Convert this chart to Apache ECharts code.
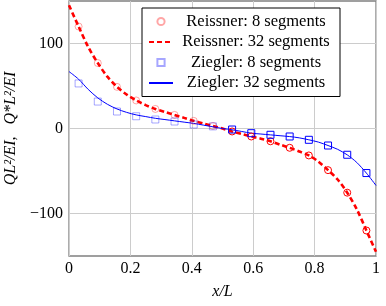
<!DOCTYPE html>
<html><head><meta charset="utf-8">
<script src="https://cdn.jsdelivr.net/npm/echarts@6/dist/echarts.min.js"></script>
<style>html,body{margin:0;padding:0;background:#fff}#c{width:386px;height:306px}</style>
</head><body><div id="c"></div>
<script>
var xMarks = [0.03125,0.09375,0.15625,0.21875,0.28125,0.34375,0.40625,0.46875,0.53125,0.59375,0.65625,0.71875,0.78125,0.84375,0.90625,0.96875];
var reissner8 = [120,77,49,33,23,16,9,3,-3.5,-9.4,-15,-22.7,-31.7,-49,-75.5,-120];
var ziegler8 = [53,31.7,20,14.4,10.6,8.2,4.7,2.5,-1.2,-5.5,-7.4,-9.4,-13.3,-20,-30.9,-52.4];
var xLine = [0,0.03125,0.0625,0.09375,0.125,0.15625,0.1875,0.21875,0.25,0.28125,0.3125,0.34375,0.375,0.40625,0.4375,0.46875,0.5,0.53125,0.5625,0.59375,0.625,0.65625,0.6875,0.71875,0.75,0.78125,0.8125,0.84375,0.875,0.90625,0.9375,0.96875,1];
var reissner32 = [145,120,96,77,61,49,40,33,27.5,23,19.5,16,12.5,9,6,3,0,-3.5,-6.5,-9.4,-12,-15,-19,-22.7,-27,-31.7,-39,-49,-60,-75.5,-95,-120,-145];
var ziegler32 = [67,58,46,36,28.5,23,19,16,14,12,10.5,9,7.5,6,4,2,0,-1.5,-3.5,-5.5,-6.5,-7.5,-8.5,-9.5,-11,-13.3,-16,-20,-24.5,-31,-40,-52.5,-67];
var xTicks = ['0','0.2','0.4','0.6','0.8','1'];
var names = ['Reissner: 8 segments','Reissner: 32 segments','Ziegler: 8 segments','Ziegler: 32 segments'];

var FONT = 'Liberation Serif';
function pts(xs, ys, fade) {
  return xs.map(function (x, i) {
    var d = {value: [x, ys[i]]};
    if (fade) d.itemStyle = {opacity: x < 0.5 ? 0.35 : 1};
    return d;
  });
}
function markerSeries(name, symbol, color, xs, ys) {
  return {name: name, type: 'line', symbol: symbol, symbolSize: 7, showSymbol: true, showAllSymbol: true, z: 4,
    lineStyle: {width: 0, opacity: 0, color: color},
    itemStyle: {color: 'rgba(255,255,255,0)', borderColor: color, borderWidth: 1, opacity: 0.35},
    emphasis: {disabled: true},
    data: pts(xs, ys, true)};
}
function curveSeries(name, color, width, type, xs, ys) {
  return {name: name, type: 'line', symbol: 'none', smooth: 0.3, z: 3,
    lineStyle: {color: color, width: width, type: type},
    itemStyle: {color: 'rgba(0,0,0,0)', borderColor: 'rgba(0,0,0,0)', opacity: 0},
    emphasis: {disabled: true},
    data: pts(xs, ys, false)};
}
var chart = echarts.init(document.getElementById('c'), null, {renderer: 'canvas'});
chart.setOption({
  animation: false,
  backgroundColor: '#fff',
  grid: {left: 69, right: 10, top: 1, bottom: 50, containLabel: false, outerBoundsMode: 'none',
    show: true, borderColor: '#808080', borderWidth: 1.3, backgroundColor: 'transparent'},
  xAxis: {
    type: 'value', min: 0, max: 1, interval: 0.2,
    name: 'x/L', nameLocation: 'middle', nameGap: 28,
    nameTextStyle: {fontFamily: FONT, fontStyle: 'italic', fontSize: 16, color: '#000'},
    axisLine: {show: false}, axisTick: {show: false},
    axisLabel: {fontFamily: FONT, fontSize: 16, color: '#000', margin: 5,
      formatter: function (v) { return xTicks[Math.round(v / 0.2)]; }},
    splitLine: {show: true, lineStyle: {color: '#cccccc', width: 1}}
  },
  yAxis: {
    type: 'value', min: -150, max: 150, interval: 50,
    name: 'QL\u00b2/EI,   Q*L\u00b2/EI', nameLocation: 'middle', nameGap: 46, nameRotate: 90,
    nameTextStyle: {fontFamily: FONT, fontStyle: 'italic', fontSize: 16, color: '#000'},
    axisLine: {show: false}, axisTick: {show: false},
    axisLabel: {fontFamily: FONT, fontSize: 16, color: '#000', margin: 6,
      formatter: function (v) { if (v % 100 !== 0 || Math.abs(v) > 100) return ''; return v < 0 ? '\u2212' + (-v) : String(v); }},
    splitLine: {show: true, lineStyle: {color: ['transparent', '#cccccc'], width: 1}}
  },
  legend: {
    orient: 'vertical', left: 142, top: 8,
    backgroundColor: '#fff', borderColor: '#000', borderWidth: 1,
    padding: [5, 6, 5, 6], itemGap: 3.5, itemWidth: 24, itemHeight: 9,
    data: names,
    formatter: function (n) { return '{a|' + n + '}'; },
    textStyle: {fontFamily: FONT, fontSize: 16, color: '#000',
      rich: {a: {fontFamily: FONT, fontSize: 16.5, color: '#000', width: 156, align: 'center', lineHeight: 16}}}
  },
  series: [
    markerSeries(names[0], 'circle', '#ff0000', xMarks, reissner8),
    curveSeries(names[1], '#ff0000', 2.6, [5, 3], xLine, reissner32),
    markerSeries(names[2], 'rect', '#0000ff', xMarks, ziegler8),
    curveSeries(names[3], '#0000ff', 1, 'solid', xLine, ziegler32)
  ]
});
</script></body></html>
